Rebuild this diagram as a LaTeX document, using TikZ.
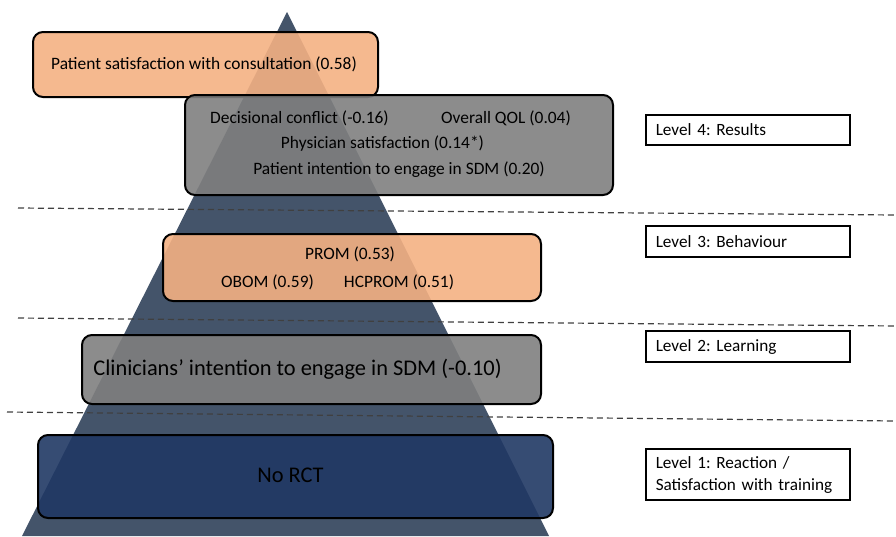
\documentclass[tikz,border=0pt]{standalone}
\usepackage{fontspec}
\setmainfont{Carlito}
\usepackage{tikz}
\frenchspacing
\definecolor{pyr}{RGB}{68, 84, 106}
\definecolor{peach}{RGB}{244, 177, 131}
\definecolor{midgray}{RGB}{127, 127, 127}
\definecolor{navy}{RGB}{32, 56, 100}

\begin{document}
\begin{tikzpicture}[
   x=1pt, y=-1pt,
   outbox/.style={rounded corners=10, draw=black, line width=2, fill opacity=0.9,
                  text opacity=1, inner sep=0},
   peachbox/.style={outbox, fill=peach},
   graybox/.style={outbox, fill=midgray},
   navybox/.style={outbox, fill=navy},
   txt/.style={inner sep=0, font=\fontsize{17.4}{20}\selectfont},
   bigtxt/.style={inner sep=0, font=\fontsize{22.4}{26}\selectfont},
   lvl/.style={draw=black, line width=1.5, fill=white, anchor=west, text width=184,
               inner xsep=10, inner ysep=0, align=left,
               font=\fontsize{17.2}{22}\selectfont}
  ]

  \useasboundingbox (0, 0) rectangle (896, 536);

  % Pyramid
  \fill[pyr] (287, 12) -- (549, 536) -- (22, 536) -- cycle;

  % Outcome boxes
  \node (B5) at (205.5, 64.5) [peachbox, minimum width=345, minimum height=65] {};
  \node (B4) at (399, 145) [graybox, minimum width=428, minimum height=100] {};
  \node (B3) at (352, 267.5) [peachbox, minimum width=378, minimum height=67] {};
  \node (B2) at (311.5, 369.5) [graybox, minimum width=459, minimum height=69] {};
  \node (B1) at (295.5, 476.5) [navybox, minimum width=515, minimum height=83] {};

  \node (T1) at (204, 64) [txt] {Patient satisfaction with consultation (0.58)};

  \node (T2) at (299.5, 118) [txt] {Decisional conflict (-0.16)};
  \node (T3) at (506, 118) [txt] {Overall QOL (0.04)};
  \node (T4) at (382.5, 144) [txt] {Physician satisfaction (0.14*)};
  \node (T5) at (399, 170) [txt] {Patient intention to engage in SDM (0.20)};

  \node (T6) at (350, 254) [txt] {PROM (0.53)};
  \node (T7) at (267.5, 282) [txt] {OBOM (0.59)};
  \node (T8) at (399, 282) [txt] {HCPROM (0.51)};

  \node (T9) at (297.5, 369) [bigtxt] {Clinicians’ intention to engage in SDM (-0.10)};
  \node (T10) at (290.5, 475) [bigtxt] {No RCT};

  % Level separators
  \foreach \xa/\ya/\yb in {18/208/215, 18/318/326, 7/412/421} {
    \draw[black!75, line width=1.2, dash pattern=on 6 off 4] (\xa, \ya) -- (896, \yb);
  }

  % Level labels
  \node (L4) at (645, 130) [lvl, minimum height=30] {Level 4: Results};
  \node (L3) at (645, 241.5) [lvl, minimum height=31] {Level 3: Behaviour};
  \node (L2) at (645, 346.5) [lvl, minimum height=31] {Level 2: Learning};
  \node (L1) at (645, 474.5) [lvl, minimum height=51] {Level 1: Reaction /\\Satisfaction with training};

\end{tikzpicture}
\end{document}
